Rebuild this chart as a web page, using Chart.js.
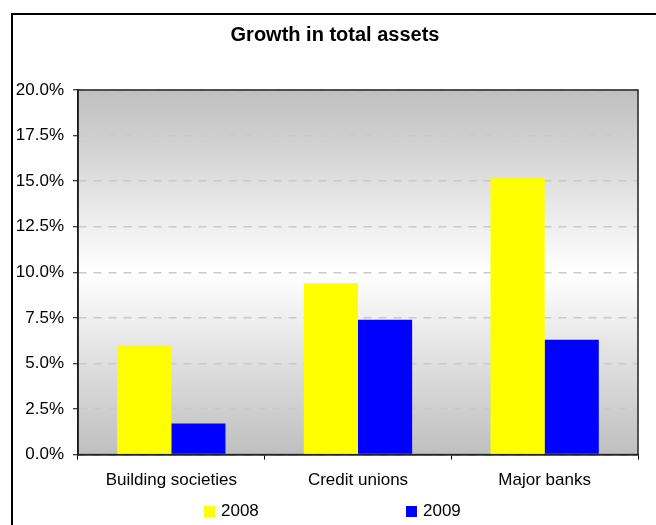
<!DOCTYPE html>
<html lang="en">

<head>
    <meta charset="UTF-8">
    <title>Growth in total assets</title>
    <style>
        body { margin: 0; overflow: hidden; background: #fff; }
        .frame { position: absolute; left: 11px; top: 13px; width: 700px; height: 600px; border: 2px solid #000; }
        #assetsChart { position: absolute; left: 0; top: 0; }
        .legend { position: absolute; left: 204px; top: 501px; display: flex; font: 17px 'Liberation Sans', Arial, sans-serif; color: #000; }
        .legend-item { width: 202px; display: flex; align-items: center; line-height: 20px; }
        .legend-box { width: 11px; height: 11px; margin-right: 6px; }
    </style>
</head>

<body>
    <div class="frame"></div>
    <canvas id="assetsChart" width="656" height="525"></canvas>
    <div class="legend" id="legend"></div>
    <script src="https://cdn.jsdelivr.net/npm/chart.js@4/dist/chart.umd.min.js"></script>
    <script>
        const categories = ['Building societies', 'Credit unions', 'Major banks']
        const years = ['2008', '2009']
        const growth2008 = [6.0, 9.4, 15.2]
        const growth2009 = [1.7, 7.4, 6.3]
        const yMax = 20
        const yStep = 2.5

        const font = { family: "'Liberation Sans', Arial, sans-serif", size: 17 }

        // grey-white-grey fill behind the plot, frame drawn over the grid
        const plotBackground = {
            id: 'plotBackground',
            afterLayout(chart) {
                // title sits centred on the framed box, not on the canvas
                chart.titleBlock.left += 16
                chart.titleBlock.right += 16
            },
            beforeDraw(chart) {
                const { ctx, chartArea: a } = chart
                const g = ctx.createLinearGradient(0, a.top, 0, a.bottom)
                g.addColorStop(0, '#bfbfbf')
                g.addColorStop(0.5, '#ffffff')
                g.addColorStop(1, '#bfbfbf')
                ctx.save()
                ctx.fillStyle = g
                ctx.fillRect(a.left, a.top, a.right - a.left, a.bottom - a.top)
                ctx.restore()
            },
            beforeDatasetsDraw(chart) {
                const { ctx, chartArea: a } = chart
                ctx.save()
                ctx.strokeStyle = '#222'
                ctx.lineWidth = 1.5
                ctx.strokeRect(a.left, a.top, a.right - a.left, a.bottom - a.top)
                ctx.restore()
            }
        }

        const ctx = document.querySelector('#assetsChart').getContext('2d')
        const chart = new Chart(ctx, {
            type: 'bar',
            data: {
                labels: categories,
                datasets: [{
                    label: years[0],
                    backgroundColor: '#ffff00',
                    data: growth2008
                }, {
                    label: years[1],
                    backgroundColor: '#0000ff',
                    data: growth2009
                }]
            },
            options: {
                responsive: false,
                animation: false,
                categoryPercentage: 0.58,
                barPercentage: 1.0,
                layout: { padding: { left: 0, right: 18, top: 0, bottom: 23 } },
                plugins: {
                    legend: { display: false },
                    tooltip: { enabled: false },
                    title: {
                        display: true,
                        text: 'Growth in total assets',
                        color: '#000',
                        font: { family: font.family, size: 20, weight: 'bold' },
                        padding: { top: 23, bottom: 43 }
                    }
                },
                scales: {
                    x: {
                        grid: {
                            drawOnChartArea: false,
                            drawTicks: true,
                            tickLength: 5,
                            tickColor: '#000'
                        },
                        border: { color: '#000', width: 1.5 },
                        ticks: { color: '#000', font: font, padding: 11 }
                    },
                    y: {
                        min: 0,
                        max: yMax,
                        afterFit(scale) { scale.width = 78 },
                        grid: {
                            color: '#cacaca',
                            lineWidth: 1.5,
                            tickLength: 5,
                            tickColor: '#000',
                            tickWidth: 1,
                            tickBorderDash: []
                        },
                        border: { color: '#000', width: 1.5, dash: [8, 7] },
                        ticks: {
                            stepSize: yStep,
                            color: '#000',
                            font: font,
                            padding: 9,
                            callback: v => v.toFixed(1) + '%'
                        }
                    }
                }
            },
            plugins: [plotBackground]
        })

        // legend row built from the datasets
        const legend = document.querySelector('#legend')
        for (const ds of chart.data.datasets) {
            const item = document.createElement('div')
            item.className = 'legend-item'
            const box = document.createElement('span')
            box.className = 'legend-box'
            box.style.background = ds.backgroundColor
            item.appendChild(box)
            item.appendChild(document.createTextNode(ds.label))
            legend.appendChild(item)
        }
    </script>
</body>

</html>
